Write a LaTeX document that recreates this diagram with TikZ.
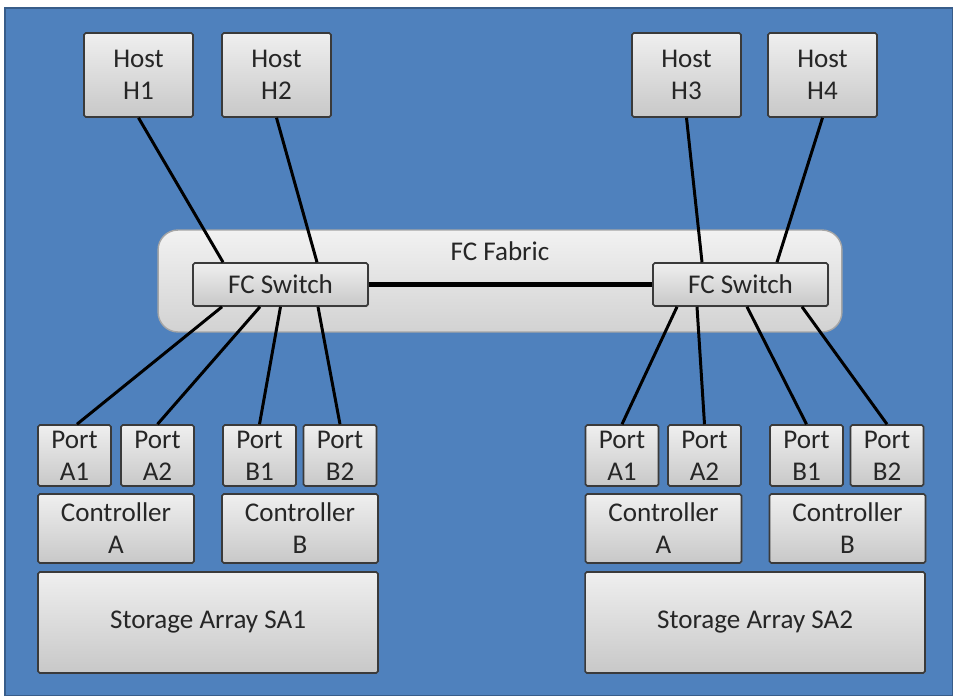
\documentclass[tikz,border=0pt]{standalone}
\usepackage{fontspec}
\setmainfont{Carlito}
\usetikzlibrary{shadows}
\definecolor{bgblue}{HTML}{4F81BD}
\definecolor{bgedge}{HTML}{385D8A}
\definecolor{boxedge}{HTML}{3A3A3A}
\definecolor{boxtop}{HTML}{EFEFEF}
\definecolor{boxbot}{HTML}{C8C8C8}
\definecolor{fabtop}{HTML}{F2F2F2}
\definecolor{fabbot}{HTML}{D2D2D2}
\definecolor{txt}{HTML}{262626}

\begin{document}
\begin{tikzpicture}[x=0.02cm, y=-0.02cm,
  box/.style={rectangle, draw=boxedge, line width=0.9pt, rounded corners=1pt,
    top color=boxtop, bottom color=boxbot, text=txt, align=center, inner sep=0pt,
    drop shadow={opacity=0.35, shadow xshift=0.6pt, shadow yshift=-0.6pt},
    font=\fontsize{15.4}{18.2}\selectfont},
  hostbox/.style={box, minimum width=2.18cm, minimum height=1.68cm},
  switchbox/.style={box, minimum width=3.5cm, minimum height=0.86cm},
  portbox/.style={box, minimum width=1.46cm, minimum height=1.22cm},
  ctrlbox/.style={box, minimum width=3.12cm, minimum height=1.38cm},
  arraybox/.style={box, minimum width=6.8cm, minimum height=2.02cm},
  link/.style={black, line width=1.7pt}]
  \useasboundingbox (0,0) rectangle (953,696);
  % page and blue backdrop
  \fill[white] (0,0) rectangle (953,696);
  \draw[bgedge, fill=bgblue, line width=0.8pt] (5,8) rectangle (953,696);
  % fabric
  \node[draw=gray!70, line width=0.8pt, rounded corners=0.4cm, top color=fabtop, bottom color=fabbot,
    minimum width=13.68cm, minimum height=2.04cm] (fab) at (500,281) {};
  \node[text=txt, font=\fontsize{15.4}{18.2}\selectfont] (fablbl) at (500,251) {FC Fabric};
  % hosts
  \node[hostbox] (h1) at (138.5,75) {Host\\H1};
  \node[hostbox] (h2) at (276.5,75) {Host\\H2};
  \node[hostbox] (h3) at (686.5,75) {Host\\H3};
  \node[hostbox] (h4) at (822.5,75) {Host\\H4};
  % switches
  \node[switchbox] (swl) at (280.5,284.5) {FC Switch};
  \node[switchbox] (swr) at (740.5,284.5) {FC Switch};
  % storage array SA1
  \node[portbox] (pa1l) at (74.5,455.5) {Port\\A1};
  \node[portbox] (pa2l) at (157.5,455.5) {Port\\A2};
  \node[portbox] (pb1l) at (259.5,455.5) {Port\\B1};
  \node[portbox] (pb2l) at (340,455.5) {Port\\B2};
  \node[ctrlbox] (cal) at (116,528.5) {Controller\\A};
  \node[ctrlbox] (cbl) at (300,528.5) {Controller\\B};
  \node[arraybox] (sa1) at (208,622.5) {Storage Array SA1};
  % storage array SA2
  \node[portbox] (pa1r) at (622,455.5) {Port\\A1};
  \node[portbox] (pa2r) at (704.5,455.5) {Port\\A2};
  \node[portbox] (pb1r) at (806.5,455.5) {Port\\B1};
  \node[portbox] (pb2r) at (887,455.5) {Port\\B2};
  \node[ctrlbox] (car) at (663.5,528.5) {Controller\\A};
  \node[ctrlbox] (cbr) at (847.5,528.5) {Controller\\B};
  \node[arraybox] (sa2) at (755,622.5) {Storage Array SA2};
  % links
  \draw[link] (h1.south) -- ([xshift=-1.15cm]swl.north);
  \draw[link] (h2.south) -- ([xshift=0.73cm]swl.north);
  \draw[link] (h3.south) -- ([xshift=-0.77cm]swr.north);
  \draw[link] (h4.south) -- ([xshift=0.73cm]swr.north);
  \draw[link, line width=2.3pt] (swl.east) -- (swr.west);
  \draw[link] ([xshift=-1.17cm]swl.south) -- ([xshift=0.05cm]pa1l.north);
  \draw[link] ([xshift=-0.41cm]swl.south) -- (pa2l.north);
  \draw[link] (swl.south) -- (pb1l.north);
  \draw[link] ([xshift=0.75cm]swl.south) -- (pb2l.north);
  \draw[link] ([xshift=-1.27cm]swr.south) -- (pa1r.north);
  \draw[link] ([xshift=-0.87cm]swr.south) -- (pa2r.north);
  \draw[link] ([xshift=0.13cm]swr.south) -- (pb1r.north);
  \draw[link] ([xshift=1.23cm]swr.south) -- (pb2r.north);
\end{tikzpicture}
\end{document}
